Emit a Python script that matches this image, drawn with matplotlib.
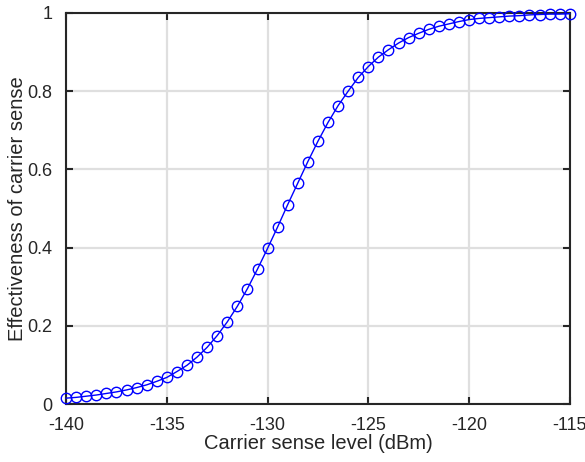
import numpy as np
import matplotlib
matplotlib.use("Agg")
import matplotlib.pyplot as plt

# carrier sense level (dBm), step 0.5
level = np.arange(-140, -114.9, 0.5)
# effectiveness
effect = [0.015, 0.017, 0.020, 0.023, 0.027, 0.031, 0.036, 0.042, 0.049, 0.058,
          0.068, 0.083, 0.099, 0.120, 0.145, 0.175, 0.210, 0.250, 0.295, 0.345,
          0.398, 0.453, 0.510, 0.565, 0.620, 0.672, 0.720, 0.763, 0.800, 0.835,
          0.863, 0.887, 0.906, 0.923, 0.937, 0.948, 0.958, 0.966, 0.972, 0.978,
          0.983, 0.986, 0.988, 0.990, 0.992, 0.993, 0.995, 0.996, 0.997, 0.997,
          0.998]

xticks = [-140, -135, -130, -125, -120, -115]
yticks = [0, 0.2, 0.4, 0.6, 0.8, 1]

plt.rcParams['font.family'] = ['Liberation Sans', 'DejaVu Sans']

fig = plt.figure(figsize=(5.85, 4.62), dpi=100)
ax = fig.add_axes([0.113, 0.1255, 0.861, 0.8465])

ax.plot(level, effect, color='#0000ff', linewidth=1.0, marker='o',
        markersize=7.5, markerfacecolor='none', markeredgewidth=1.0,
        clip_on=False, zorder=3)

ax.set_xlim(-140, -115)
ax.set_ylim(0, 1)
ax.set_xticks(xticks)
ax.set_yticks(yticks)
ax.set_xticklabels([str(t) for t in xticks])
ax.set_yticklabels(['0', '0.2', '0.4', '0.6', '0.8', '1'])

ax.grid(True, color='#dfdfdf', linewidth=1.6)
ax.set_axisbelow(True)
for s in ax.spines.values():
    s.set_color('#262626')
    s.set_linewidth(1.5)
ax.tick_params(direction='in', top=True, right=True, length=5, width=1.5,
               color='#262626', labelsize=13, labelcolor='#262626')
ax.tick_params(axis='x', pad=9)
ax.tick_params(axis='y', pad=10)

ax.set_xlabel('Carrier sense level (dBm)', fontsize=14.5, color='#262626')
ax.set_ylabel('Effectiveness of carrier sense', fontsize=14.5, color='#262626')
ax.xaxis.set_label_coords(0.5, -0.1, transform=ax.transAxes)
ax.yaxis.set_label_coords(-0.097, 0.5, transform=ax.transAxes)
ax.xaxis.label.set_va('center')
ax.yaxis.label.set_va('center')

fig.savefig('out.png', dpi=100)
